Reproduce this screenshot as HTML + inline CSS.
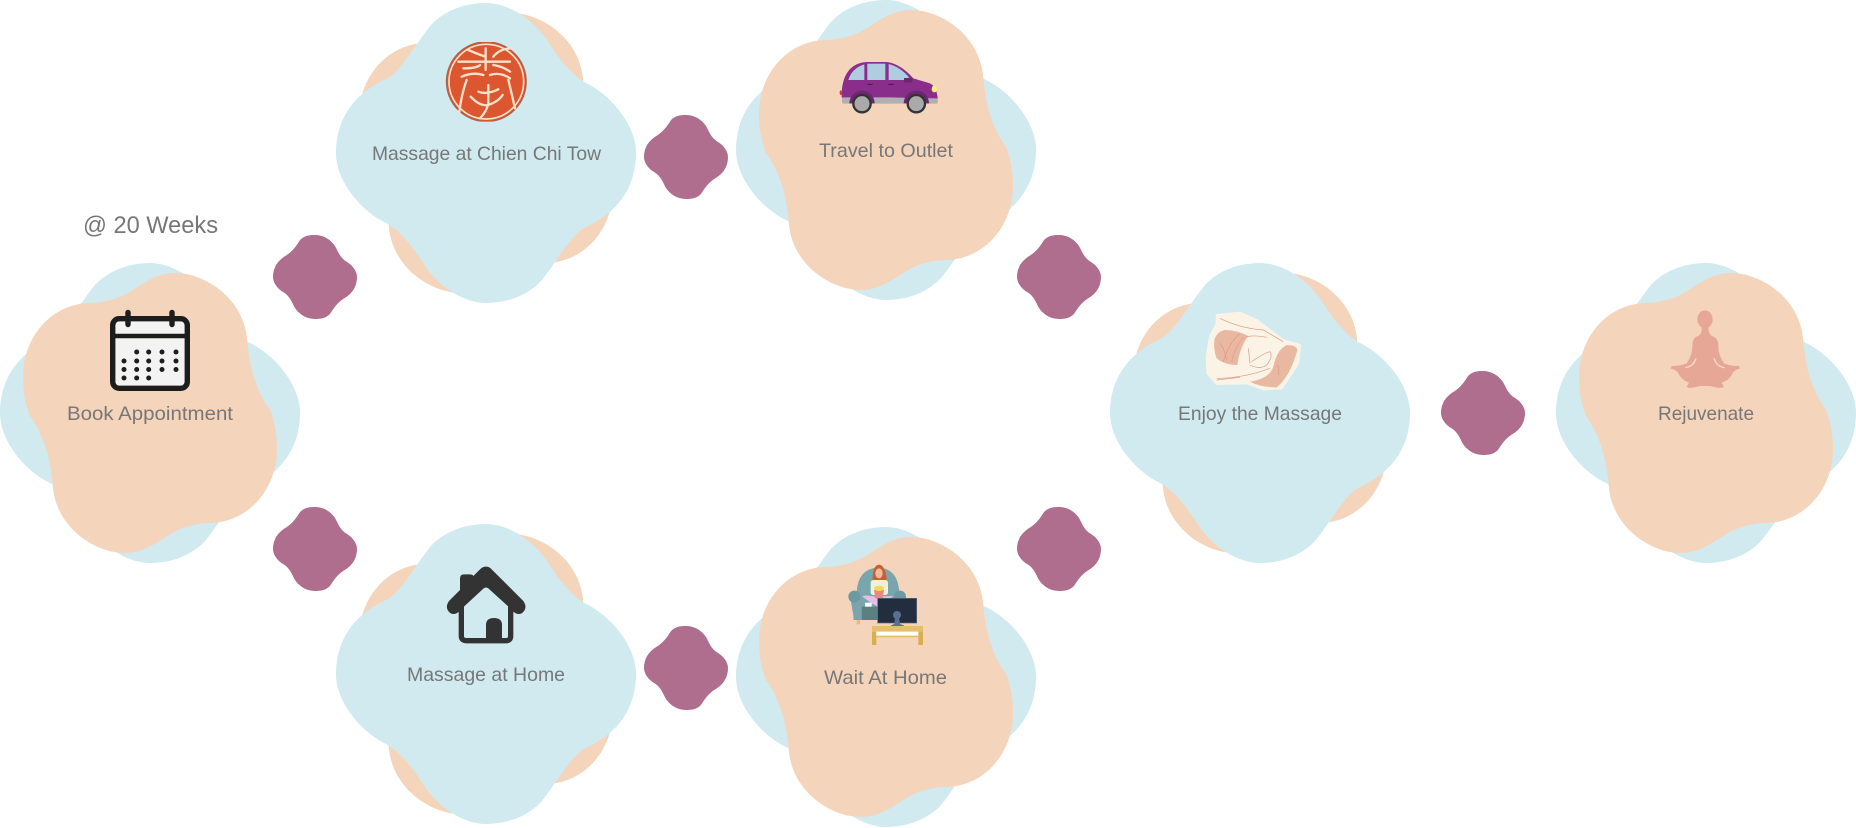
<!DOCTYPE html>
<html lang="en">
<head>
<meta charset="utf-8">
<title>Massage journey</title>
<style>
html,body{margin:0;padding:0;background:#fff;width:1856px;height:828px;overflow:hidden}
svg{display:block}
text{font-family:"Liberation Sans",sans-serif;fill:#777;font-size:19.5px}
</style>
</head>
<body>
<svg xmlns="http://www.w3.org/2000/svg" width="1856" height="828" viewBox="0 0 1856 828">
<defs>
<path id="b" d="M150 0C172 0 198 16 213 40C222 54 234 71 250 80C275 92 300 122 300 150C300 183 283 209 250 224C236 230 220 260 205 278C192 292 172 300 150 300C128 300 102 284 87 260C78 246 66 229 50 220C25 208 0 178 0 150C0 117 17 91 50 76C64 70 80 40 95 22C108 8 128 0 150 0Z"/>
<path id="s" d="M150 0C178 0 205 14 222 40C232 58 240 82 262 95C285 108 300 130 300 150C300 182 285 208 255 226C238 236 222 252 205 280C190 298 170 300 150 300C122 300 95 286 78 260C68 242 60 218 38 205C15 192 0 170 0 150C0 118 15 92 45 74C62 64 78 48 95 20C110 2 130 0 150 0Z"/>
<path id="p" d="M175 10C205 10 243 35 247 75C249 100 254 125 270 147C275 160 277 173 277 186C277 225 250 258 212 260C200 260 192 262 183 265C165 271 150 290 125 290C95 290 57 265 53 225C51 200 46 175 30 153C25 140 23 127 23 114C23 75 50 42 88 40C100 40 108 38 117 35C135 29 150 10 175 10Z"/>
<clipPath id="sealclip"><rect x="370" y="126" width="260" height="239"/></clipPath>
</defs>

<!-- peach on top -->
<g transform="translate(0,263)"><use href="#b" fill="#d0eaef"/><use href="#p" fill="#f5d4bc"/></g>
<g transform="translate(736,0)"><use href="#b" fill="#d0eaef"/><use href="#p" fill="#f5d4bc"/></g>
<g transform="translate(736,527)"><use href="#b" fill="#d0eaef"/><use href="#p" fill="#f5d4bc"/></g>
<g transform="translate(1556,263)"><use href="#b" fill="#d0eaef"/><use href="#p" fill="#f5d4bc"/></g>
<!-- blue on top -->
<g transform="translate(336,3)"><use href="#p" fill="#f5d4bc"/><use href="#b" fill="#d0eaef"/></g>
<g transform="translate(336,524)"><use href="#p" fill="#f5d4bc"/><use href="#b" fill="#d0eaef"/></g>
<g transform="translate(1110,263)"><use href="#p" fill="#f5d4bc"/><use href="#b" fill="#d0eaef"/></g>

<!-- connectors -->
<g fill="#b06e8e">
<use href="#s" transform="translate(273,235) scale(.28)"/>
<use href="#s" transform="translate(273,507) scale(.28)"/>
<use href="#s" transform="translate(644,115) scale(.28)"/>
<use href="#s" transform="translate(644,626) scale(.28)"/>
<use href="#s" transform="translate(1017,235) scale(.28)"/>
<use href="#s" transform="translate(1017,507) scale(.28)"/>
<use href="#s" transform="translate(1441,371) scale(.28)"/>
</g>

<!-- calendar -->
<g>
<rect x="112.700" y="318.700" width="74.600" height="69.600" rx="6.500" fill="#f3f3f3" stroke="#1d1d1b" stroke-width="5.400"/>
<line x1="112" y1="336" x2="188" y2="336" stroke="#1d1d1b" stroke-width="4.500"/>
<line x1="128" y1="312.500" x2="128" y2="324.500" stroke="#1d1d1b" stroke-width="5.400" stroke-linecap="round"/>
<line x1="172" y1="312.500" x2="172" y2="324.500" stroke="#1d1d1b" stroke-width="5.400" stroke-linecap="round"/>
<g fill="#1d1d1b">
<circle cx="136.700" cy="352" r="2.500"/><circle cx="148.700" cy="352" r="2.500"/><circle cx="162" cy="352" r="2.500"/><circle cx="176" cy="352" r="2.500"/>
<circle cx="124" cy="361" r="2.500"/><circle cx="136.700" cy="361" r="2.500"/><circle cx="148.700" cy="361" r="2.500"/><circle cx="162" cy="361" r="2.500"/><circle cx="176" cy="361" r="2.500"/>
<circle cx="124" cy="369.500" r="2.500"/><circle cx="136.700" cy="369.500" r="2.500"/><circle cx="148.700" cy="369.500" r="2.500"/><circle cx="162" cy="369.500" r="2.500"/><circle cx="176" cy="369.500" r="2.500"/>
<circle cx="124" cy="378" r="2.500"/><circle cx="136.700" cy="378" r="2.500"/><circle cx="148.700" cy="378" r="2.500"/>
</g>
</g>

<!-- seal -->
<g transform="translate(320,0) scale(.33333)">
<g clip-path="url(#sealclip)">
<circle cx="499" cy="245" r="120" fill="#dc5630" stroke="#a8604c" stroke-width="3"/>
<g fill="none" stroke="#f8e2cc" stroke-width="7" stroke-linecap="round">
<circle cx="499" cy="245" r="112" stroke-width="5"/>
<path d="M445 150Q480 165 497 170M497 145V210M415 185H570M520 170Q540 145 575 145"/>
<path d="M430 205Q470 205 480 195M520 195Q550 200 570 215"/>
<path d="M425 230Q460 215 490 225M510 225Q540 215 570 235"/>
<path d="M440 240Q425 280 418 335M565 240Q575 280 585 325"/>
<path d="M452 290Q480 320 505 315Q535 305 548 285M475 275Q500 285 535 268M505 255V310Q500 335 480 355"/>
</g>
</g>
</g>

<!-- car -->
<g transform="translate(720,0) scale(.33333)">
<ellipse cx="362" cy="278" rx="3" ry="7" fill="#d8322c"/>
<path d="M366 288L653 290V308Q653 311 648 311H372Q366 311 366 305Z" fill="#b0b0b0"/>
<path d="M365 292C364 250 375 190 440 186H500Q540 190 580 235L630 250Q650 260 653 295L500 292Z" fill="#8a2e8c"/>
<path d="M385 240Q395 205 433 193V240Z" fill="#b0cce0"/>
<rect x="442" y="191" width="54" height="49" fill="#b0cce0"/>
<path d="M506 192Q540 200 568 233L552 235V240H506Z" fill="#b0cce0"/>
<rect x="552" y="234" width="25" height="13" rx="2" fill="#6d2670"/>
<path d="M388 310A38 38 0 0 1 464 310ZM551 310A38 38 0 0 1 627 310Z" fill="#6d2670"/>
<circle cx="426" cy="311" r="26" fill="#aaa" stroke="#333" stroke-width="7"/>
<circle cx="589" cy="311" r="26" fill="#aaa" stroke="#333" stroke-width="7"/>
<ellipse cx="643" cy="267" rx="8" ry="10" fill="#f8f080"/>
<path d="M442 253H458M505 253H521" stroke="#3a2040" stroke-width="3"/>
</g>

<!-- massage -->
<g transform="translate(1100,250) scale(.33333)">
<path d="M350 195L420 188L470 210L550 270L600 285L595 340L545 415L490 418L440 400L350 402L322 370L320 320L330 260L350 220Z" fill="#fbf3e6" stroke="#fbf3e6" stroke-width="6" stroke-linejoin="round"/>
<path d="M343 270Q350 245 375 240Q410 240 445 258Q420 290 412 345Q375 345 350 325Q340 300 343 270Z" fill="#e9b8a0"/>
<path d="M560 285Q590 285 592 300Q570 380 530 412Q480 412 450 395Q510 385 520 350Q530 300 560 285Z" fill="#e9b8a0"/>
<g fill="none" stroke="#dc9a84" stroke-width="2">
<path d="M360 205Q420 235 490 240L550 275M440 260Q470 255 500 262M370 335Q385 280 420 250M395 335Q405 290 430 262M360 280Q375 300 380 330"/>
<path d="M455 335Q490 310 510 305Q520 320 500 345Q480 360 450 345M445 295L450 340M350 385Q430 385 510 355M530 350Q540 340 535 375M350 390L420 382"/>
</g>
</g>

<!-- yoga -->
<g transform="translate(1540,250) scale(.33333)">
<ellipse cx="495" cy="208" rx="23" ry="27" fill="#e6a796"/>
<path d="M485 230Q487 255 470 260Q457 265 457 290Q457 315 440 340Q420 348 395 348L392 356Q410 360 415 370Q425 390 447 398L440 410Q445 418 480 408H510Q545 418 552 410L545 398Q570 390 577 370Q585 358 600 356L597 348Q570 348 552 340Q535 315 535 290Q535 265 520 260Q505 255 505 230Z" fill="#e6a796"/>
<path d="M436 353Q460 350 468 325M554 353Q530 350 522 325" fill="none" stroke="#f7dccb" stroke-width="4"/>
</g>

<!-- home -->
<g transform="translate(420,540) scale(.33333)">
<path d="M198 80Q208 80 215 88L310 183Q325 205 305 220Q292 226 280 215L262 197L205 145Q198 140 191 145L135 197L117 215Q105 226 92 220Q72 205 87 183L120 150V115Q120 103 132 103H148Q158 103 160 108L180 88Q188 80 198 80Z" fill="#333"/>
<path d="M124 200V288Q124 302 140 302H258Q272 302 272 288V200" fill="none" stroke="#333" stroke-width="16"/>
<path d="M198 298V255Q198 234 222 234Q246 234 246 255V298Z" fill="#333"/>
</g>

<!-- wait at home -->
<g transform="translate(800,540) scale(.33333)">
<rect x="170" y="235" width="10" height="18" fill="#e4bf6c"/>
<path d="M170 155Q175 85 235 83Q295 85 298 160V240H160Z" fill="#7aa5ac"/>
<rect x="185" y="200" width="60" height="40" fill="#5a8080"/>
<path d="M152 180H185V238H162Z" fill="#7aa5ac"/>
<circle cx="163" cy="170" r="18" fill="#6c99a2"/>
<circle cx="300" cy="170" r="18" fill="#6c99a2"/>
<path d="M218 125Q216 75 238 74Q258 78 260 125Z" fill="#c9602c"/>
<ellipse cx="237" cy="100" rx="11" ry="15" fill="#eebba0"/>
<rect x="212" y="120" width="52" height="45" rx="8" fill="#f3f0d8"/>
<path d="M187 170Q190 163 225 170L280 168L238 202L215 190Z" fill="#e4bde8"/>
<rect x="195" y="188" width="20" height="12" fill="#fff"/>
<path d="M222 150H252L248 175H226Z" fill="#e88a80"/>
<ellipse cx="237" cy="145" rx="15" ry="8" fill="#f2d85a"/>
<rect x="233" y="175" width="117" height="74" fill="#232d40" stroke="#5a6a80" stroke-width="2"/>
<circle cx="291" cy="225" r="12" fill="#5a7090"/>
<path d="M285 232H297L300 252Q315 256 314 261H270Q270 256 283 252Z" fill="#5a7090"/>
<rect x="216" y="258" width="153" height="17" fill="#e4bf6c"/>
<rect x="216" y="275" width="13" height="40" fill="#d9ad52"/>
<rect x="355" y="275" width="14" height="40" fill="#d9ad52"/>
<rect x="229" y="275" width="126" height="12" fill="#fff"/>
<rect x="229" y="287" width="126" height="5" fill="#e4bf6c"/>
</g>

<!-- labels -->
<text x="83" y="233" textLength="135" lengthAdjust="spacingAndGlyphs" style="font-size:24px">@ 20 Weeks</text>
<text x="67" y="420" textLength="166" lengthAdjust="spacingAndGlyphs">Book Appointment</text>
<text x="372" y="160" textLength="229" lengthAdjust="spacingAndGlyphs">Massage at Chien Chi Tow</text>
<text x="819" y="157" textLength="134" lengthAdjust="spacingAndGlyphs">Travel to Outlet</text>
<text x="1178" y="420" textLength="164" lengthAdjust="spacingAndGlyphs">Enjoy the Massage</text>
<text x="1658" y="420" textLength="96" lengthAdjust="spacingAndGlyphs">Rejuvenate</text>
<text x="407" y="681" textLength="158" lengthAdjust="spacingAndGlyphs">Massage at Home</text>
<text x="824" y="684" textLength="123" lengthAdjust="spacingAndGlyphs">Wait At Home</text>
</svg>
</body>
</html>
